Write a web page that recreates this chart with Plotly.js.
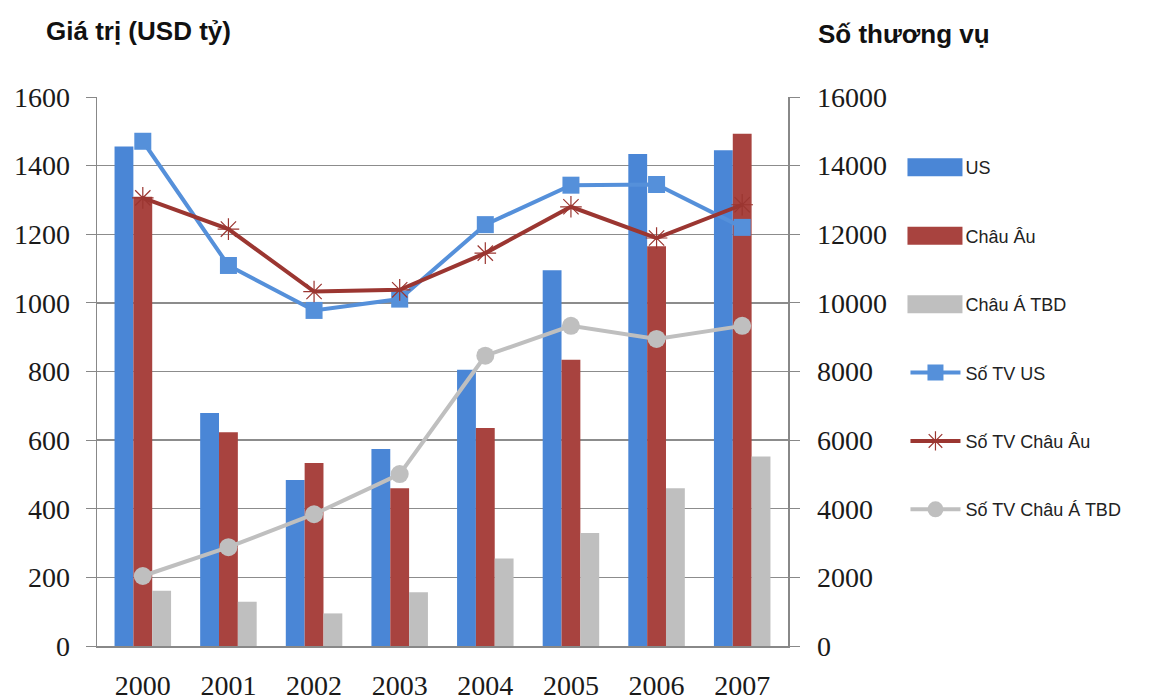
<!DOCTYPE html>
<html>
<head>
<meta charset="utf-8">
<script src="https://cdn.plot.ly/plotly-3.0.1.min.js"></script>
<style>html,body{margin:0;padding:0;background:#fff;}#chart{width:1173px;height:700px;}</style>
</head>
<body>
<div id="chart"></div>
<script>
const years = ["2000","2001","2002","2003","2004","2005","2006","2007"];
const valueUS = [1456, 679, 484, 574, 805, 1095, 1434, 1445];
const valueEU = [1309, 623, 533, 460, 635, 834, 1165, 1493];
const valueAPAC = [161, 129, 95, 157, 255, 329, 460, 552];
const dealsUS = [14710, 11090, 9780, 10110, 12280, 13430, 13450, 12200];
const dealsEU = [13060, 12150, 10330, 10380, 11450, 12800, 11890, 12860];
const dealsAPAC = [2040, 2880, 3840, 5010, 8460, 9330, 8950, 9330];
const seriesNames = ["US", "Châu Âu", "Châu Á TBD", "Số TV US", "Số TV Châu Âu", "Số TV Châu Á TBD"];

const cBlue = "#4A86D6", cRed = "#A8433F", cGray = "#BFBFBF";
const lBlue = "#5590DA", lRed = "#9B3631";

const traces = [
  {type:"bar", x:years, y:valueUS, name:seriesNames[0], marker:{color:cBlue}, legendgroup:"a"},
  {type:"bar", x:years, y:valueEU, name:seriesNames[1], marker:{color:cRed}, legendgroup:"b"},
  {type:"bar", x:years, y:valueAPAC, name:seriesNames[2], marker:{color:cGray}, legendgroup:"c"},
  {type:"scatter", mode:"lines+markers", x:years, y:dealsUS, yaxis:"y2", name:seriesNames[3],
   line:{color:lBlue, width:4}, marker:{symbol:"square", size:17, color:lBlue}, legendgroup:"d"},
  {type:"scatter", mode:"lines+markers", x:years, y:dealsEU, yaxis:"y2", name:seriesNames[4],
   line:{color:lRed, width:4}, marker:{symbol:"asterisk-open", size:18, color:lRed, line:{color:"#A0524D", width:1.2}}, legendgroup:"e"},
  {type:"scatter", mode:"lines+markers", x:years, y:dealsAPAC, yaxis:"y2", name:seriesNames[5],
   line:{color:cGray, width:4}, marker:{symbol:"circle", size:18, color:cGray}, legendgroup:"f"}
];

const tickFont = {family:"Liberation Serif, Times New Roman, serif", size:28, color:"#1a1a1a"};

const layout = {
  width:1173, height:700,
  margin:{l:97, r:385, t:97, b:54},
  paper_bgcolor:"#fff", plot_bgcolor:"#fff",
  barmode:"group", bargap:0.34, bargroupgap:0,
  showlegend:true,
  legend:{x:1.17, xanchor:"left", y:0.905, yanchor:"top",
    font:{family:"Liberation Sans, Arial, sans-serif", size:18, color:"#222"},
    tracegroupgap:42, itemwidth:50, bgcolor:"rgba(0,0,0,0)"},
  xaxis:{type:"category", showgrid:false, showline:true, linecolor:"#888", linewidth:1.5,
    ticks:"", tickfont:tickFont, ticklabelstandoff:14, fixedrange:true},
  yaxis:{range:[0,1600], dtick:200, showgrid:true, gridcolor:"#8c8c8c", gridwidth:1.3,
    showline:true, linecolor:"#888", linewidth:1.5, ticks:"outside", ticklen:10, tickcolor:"#888",
    tickfont:tickFont, ticklabelstandoff:10, zeroline:false},
  yaxis2:{range:[0,16000], dtick:2000, tickformat:"d", overlaying:"y", side:"right", showgrid:false,
    showline:true, linecolor:"#888", linewidth:1.5, ticks:"outside", ticklen:10, tickcolor:"#888",
    tickfont:tickFont, ticklabelstandoff:12, zeroline:false},
  annotations:[
    {text:"<b>Giá trị (USD tỷ)</b>", xref:"paper", yref:"paper", x:-0.076, y:1.12, xanchor:"left", yanchor:"middle",
     showarrow:false, font:{family:"Liberation Sans, Arial, sans-serif", size:26, color:"#111"}},
    {text:"<b>Số thương vụ</b>", xref:"paper", yref:"paper", x:1.04, y:1.115, xanchor:"left", yanchor:"middle",
     showarrow:false, font:{family:"Liberation Sans, Arial, sans-serif", size:26, color:"#111"}}
  ]
};

Plotly.newPlot("chart", traces, layout, {displayModeBar:false, staticPlot:true}).then(function(gd){
  // widen the legend swatches of the bar series into long rectangles, as in the reference
  var items = gd.querySelectorAll(".legend .traces");
  items.forEach(function(it){
    var d = it.__data__;
    var tr = d && d[0] && d[0].trace;
    if (tr && tr.type === "bar") {
      it.querySelectorAll(".legendpoints path").forEach(function(p){
        p.setAttribute("d", "M-28,9H27V-9H-28Z");
      });
    }
  });
});
</script>
</body>
</html>
